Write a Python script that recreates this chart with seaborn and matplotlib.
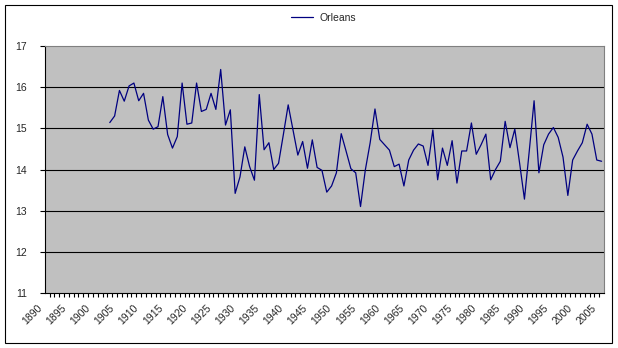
import numpy as np
import pandas as pd
import matplotlib
matplotlib.use("Agg")
import matplotlib.pyplot as plt
import matplotlib.transforms as mtransforms
from matplotlib.patches import Rectangle
import seaborn as sns

years = list(range(1903, 2006))
orleans = [
    15.14, 15.30, 15.92, 15.66, 16.03, 16.10, 15.67, 15.85, 15.20, 14.98,
    15.04, 15.77, 14.85, 14.52, 14.80, 16.10, 15.10, 15.13, 16.10, 15.41,
    15.46, 15.85, 15.46, 16.43, 15.08, 15.45, 13.42, 13.82, 14.55, 14.07,
    13.74, 15.82, 14.48, 14.65, 14.00, 14.15, 14.85, 15.57, 14.96, 14.35,
    14.68, 14.03, 14.72, 14.05, 13.98, 13.45, 13.60, 13.92, 14.87, 14.45,
    14.02, 13.92, 13.10, 13.99, 14.65, 15.47, 14.73, 14.60, 14.47, 14.07,
    14.13, 13.60, 14.23, 14.47, 14.62, 14.57, 14.10, 14.96, 13.75, 14.52,
    14.10, 14.70, 13.67, 14.45, 14.45, 15.13, 14.37, 14.60, 14.86, 13.75,
    14.00, 14.20, 15.17, 14.53, 14.98, 14.15, 13.28, 14.45, 15.67, 13.92,
    14.60, 14.86, 15.02, 14.78, 14.30, 13.37, 14.23, 14.45, 14.65, 15.10,
    14.86, 14.23, 14.20,
]
category_years = list(range(1890, 2006))
label_years = list(range(1890, 2006, 5))
y_ticks = [11, 12, 13, 14, 15, 16, 17]
grid_values = [12, 13, 14, 15, 16]

sns.set_theme(style="white")
plt.rcParams["font.family"] = ["Liberation Sans", "DejaVu Sans"]

W, H = 618, 348
fig = plt.figure(figsize=(W / 100, H / 100), dpi=100)
fig.patch.set_facecolor("white")
ax = fig.add_axes([44.7 / W, (H - 293) / H, 559.3 / W, 247 / H])
ax.set_facecolor("#C0C0C0")

for v in grid_values:
    ax.axhline(v, color="black", lw=0.8, zorder=1)

df = pd.DataFrame({"Year": years, "Orleans": orleans})
sns.lineplot(data=df, x="Year", y="Orleans", color="#000080", lw=0.9,
             ax=ax, label="Orleans", zorder=3)

ax.set_xlim(category_years[0] - 0.5, category_years[-1] + 0.5)
ax.set_ylim(y_ticks[0], y_ticks[-1])
ax.set_xlabel("")
ax.set_ylabel("")

ax.set_yticks(y_ticks)
ax.set_yticklabels([str(v) for v in y_ticks], fontsize=7.5)
ax.tick_params(axis="y", which="major", direction="out", length=3.6,
               width=0.8, color="black", pad=9, left=True)

ax.set_xticks(label_years)
ax.set_xticklabels([str(v) for v in label_years], fontsize=7.5)
ax.set_xticks(np.array(category_years[:-1]) + 0.5, minor=True)
ax.tick_params(axis="x", which="major", length=0, pad=7, bottom=True)
ax.tick_params(axis="x", which="minor", direction="out", length=3,
               width=0.8, color="black", bottom=True)
shift = mtransforms.ScaledTranslation(-10 / 100, 0, fig.dpi_scale_trans)
for lab in ax.get_xticklabels():
    lab.set_rotation(45)
    lab.set_ha("right")
    lab.set_va("top")
    lab.set_rotation_mode("anchor")
    lab.set_transform(lab.get_transform() + shift)

for side in ["left", "bottom"]:
    ax.spines[side].set_color("black")
    ax.spines[side].set_linewidth(0.8)
for side in ["top", "right"]:
    ax.spines[side].set_color("#808080")
    ax.spines[side].set_linewidth(0.8)

leg = ax.legend(loc="center", bbox_to_anchor=(323.5 / W, 1 - 18 / H),
                bbox_transform=fig.transFigure, frameon=False, fontsize=7.5,
                handlelength=2.1, handletextpad=0.6)

fig.add_artist(Rectangle((5 / W, 5.3 / H), 606.7 / W, 337.4 / H,
                         transform=fig.transFigure, fill=False,
                         ec="black", lw=0.8))

fig.savefig("out.png", dpi=100)
